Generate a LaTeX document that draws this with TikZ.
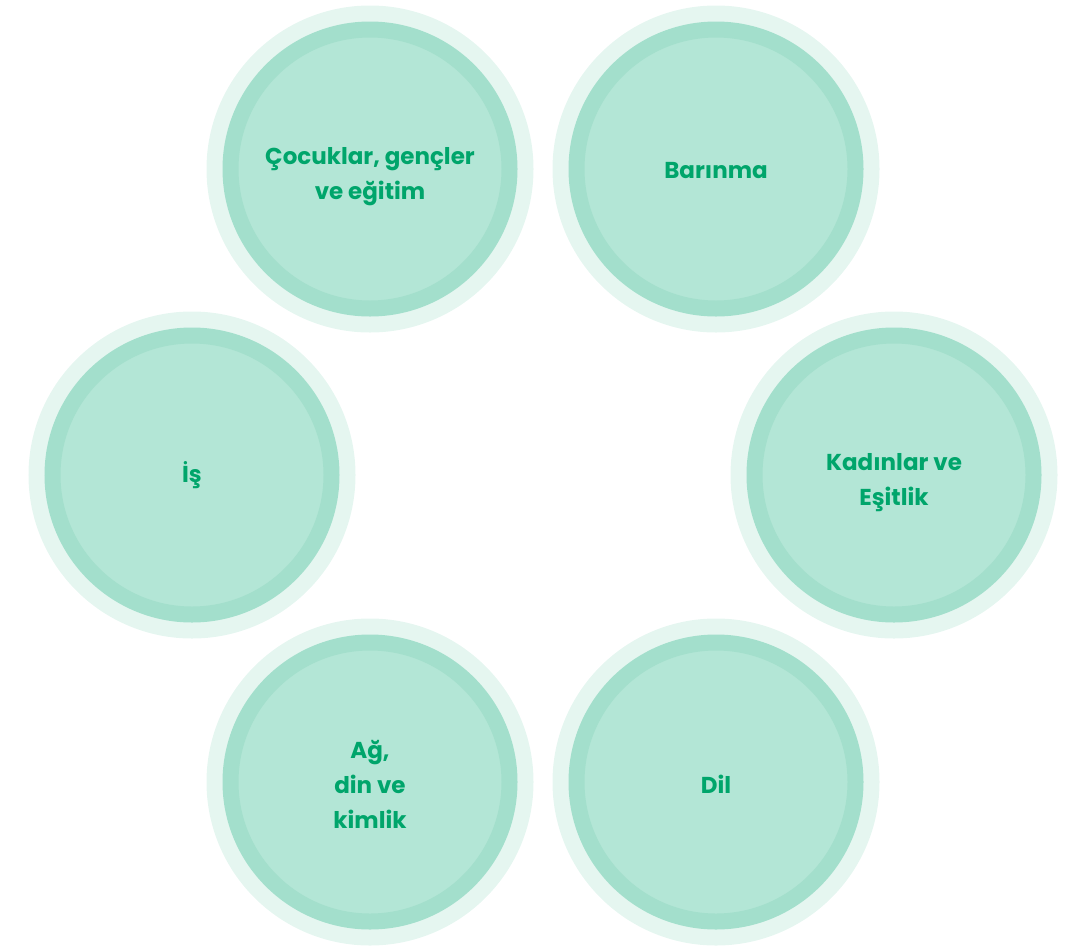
\documentclass[tikz,border=0pt]{standalone}
\usepackage{fontspec}
\setmainfont{Poppins}[BoldFont={Poppins Bold}]
\usepackage{tikz}
\usetikzlibrary{calc}

\definecolor{palering}{HTML}{E5F6F0}
\definecolor{midring}{HTML}{A3DFCC}
\definecolor{innerfill}{HTML}{B3E6D6}
\definecolor{textgreen}{HTML}{00A56B}

\begin{document}
\begin{tikzpicture}[
    x=1pt, y=-1pt, % pixel units, y grows downwards
    topic/.style={
        circle, % round bubbles
        minimum size=279pt, % middle ring sits on the path
        inner sep=0pt,
        fill=innerfill, % light green core
        draw=midring, line width=16pt, % darker ring
        preaction={draw=palering, line width=48pt} % pale halo
    },
    caption/.style={
        align=center,
        text=textgreen,
        font=\bfseries\fontsize{23}{35}\selectfont
    }
]
\useasboundingbox (0,0) rectangle (1068,948);

\coordinate (hub) at (543,475);

% the six bubbles round the hub
\node[topic] (cocuk) at ($(hub)+(-173,-306)$) {};
\node[topic] (barinma) at ($(hub)+(173,-306)$) {};
\node[topic] (is) at ($(hub)+(-351,0)$) {};
\node[topic] (kadin) at ($(hub)+(351,0)$) {};
\node[topic] (ag) at ($(hub)+(-173,307)$) {};
\node[topic] (dil) at ($(hub)+(173,307)$) {};

% their texts
\node[caption] (cocuk-txt) at ($(cocuk)+(0,8)$) {Çocuklar, gençler\\ve eğitim};
\node[caption] (barinma-txt) at ($(barinma)+(0,2)$) {Barınma};
\node[caption] (is-txt) at (is) {İş};
\node[caption] (kadin-txt) at ($(kadin)+(0,8)$) {Kadınlar ve\\Eşitlik};
\node[caption] (ag-txt) at ($(ag)+(0,2)$) {Ağ,\\din ve\\kimlik};
\node[caption] (dil-txt) at ($(dil)+(0,2)$) {Dil};
\end{tikzpicture}
\end{document}
